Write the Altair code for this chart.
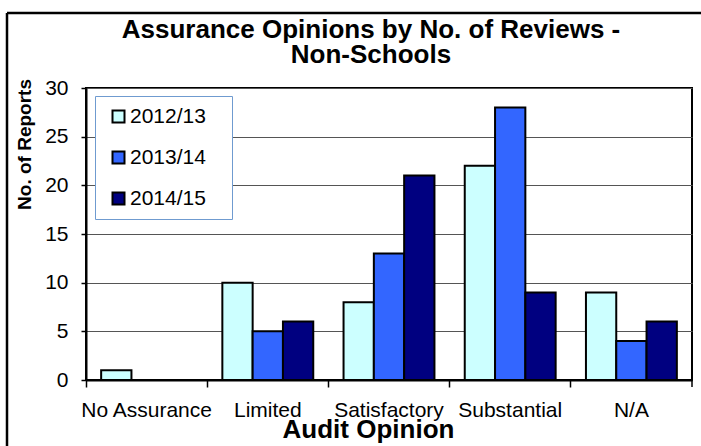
import altair as alt
import pandas as pd

categories = ["No Assurance", "Limited", "Satisfactory", "Substantial", "N/A"]
years = ["2012/13", "2013/14", "2014/15"]
v_2012_13 = [1, 10, 8, 22, 9]
v_2013_14 = [0, 5, 13, 28, 4]
v_2014_15 = [0, 6, 21, 9, 6]
colors = ["#CCFFFF", "#3366FF", "#000080"]
y_ticks = [0, 5, 10, 15, 20, 25, 30]

rows = []
for yr, vals in zip(years, [v_2012_13, v_2013_14, v_2014_15]):
    for c, v in zip(categories, vals):
        rows.append({"cat": c, "year": yr, "val": v})
df = pd.DataFrame(rows)

W, H = 606, 292
FONT = "Liberation Sans"

bars = alt.Chart(df).mark_bar(stroke="black", strokeWidth=2).encode(
    x=alt.X("cat:N", sort=categories, title="Audit Opinion",
            scale=alt.Scale(paddingInner=0, paddingOuter=0),
            axis=alt.Axis(labelAngle=0, labelFontSize=21, labelColor="black",
                          tickSize=7, tickColor="black", tickWidth=1.5,
                          domainColor="black", domainWidth=2, bandPosition=0,
                          grid=False, labelPadding=12,
                          titleFontSize=26, titleFontWeight="bold", titleColor="black",
                          titleX=282, titleY=57, titleBaseline="alphabetic",
                          titleAlign="center")),
    xOffset=alt.XOffset("year:N", sort=years,
                        scale=alt.Scale(paddingInner=0, paddingOuter=0.5)),
    y=alt.Y("val:Q", title="No. of Reports",
            scale=alt.Scale(domain=[0, 30], nice=False),
            axis=alt.Axis(values=y_ticks, grid=True, gridColor="#555555", gridWidth=1,
                          domainColor="black", domainWidth=2, tickSize=5,
                          tickColor="black", tickWidth=1.5, labelFontSize=21,
                          labelColor="black", labelPadding=13,
                          titleFontSize=19, titleFontWeight="bold", titleColor="black",
                          titleAngle=270, titleX=-56, titleY=56,
                          titleAlign="center", titleBaseline="alphabetic")),
    color=alt.Color("year:N", sort=years, title="x",
                    scale=alt.Scale(domain=years, range=colors),
                    legend=alt.Legend(orient="none", legendX=9, legendY=8,
                                      padding=10, symbolOffset=3, rowPadding=19,
                                      labelOffset=1, fillColor="white",
                                      strokeColor="#6F9BD0", labelFontSize=21,
                                      labelColor="black",
                                      titleOrient="right", titleFontSize=21,
                                      titlePadding=4, titleOpacity=0,
                                      symbolType="square", symbolSize=144,
                                      symbolStrokeColor="black", symbolStrokeWidth=2)),
)

frame_df = pd.DataFrame({"k": [0]})
frame_left = alt.Chart(frame_df).mark_rule(color="black", strokeWidth=2.5).encode(
    x=alt.value(-79), y=alt.value(-75), y2=alt.value(420))
frame_top = alt.Chart(frame_df).mark_rule(color="black", strokeWidth=2.5).encode(
    x=alt.value(-79), x2=alt.value(720), y=alt.value(-75))
end_tick = alt.Chart(frame_df).mark_rule(color="black", strokeWidth=1.5).encode(
    x=alt.value(W), y=alt.value(H), y2=alt.value(H + 7))

chart = alt.layer(bars, end_tick, frame_left, frame_top).properties(
    width=W, height=H,
    autosize=alt.AutoSizeParams(type="none"),
    padding={"left": 86, "top": 88, "right": 9, "bottom": 66},
    title=alt.TitleParams(["Assurance Opinions by No. of Reviews -", "Non-Schools"],
                          fontSize=26, fontWeight="bold", color="black", font=FONT,
                          lineHeight=25, anchor="middle", dx=-18, dy=98, offset=21,
                          baseline="alphabetic"),
).configure(font=FONT).configure_view(stroke="black", strokeWidth=2)

chart.save("out.html", embed_options={"renderer": "svg", "actions": False})
